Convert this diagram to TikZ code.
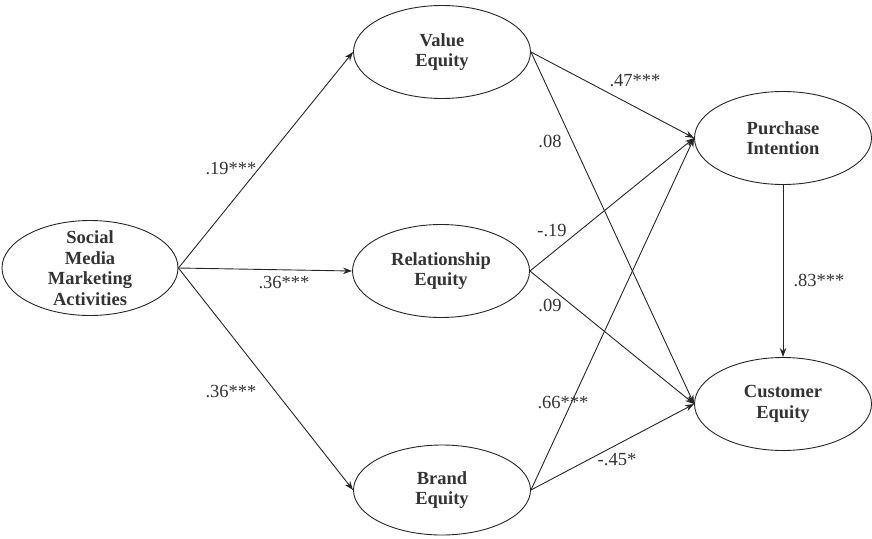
\documentclass[tikz,border=0pt]{standalone}
\usepackage{fontspec}
\setmainfont{Liberation Serif}
\usetikzlibrary{shapes.geometric,arrows.meta}
\begin{document}
\begin{tikzpicture}[x=1pt,y=-1pt,
    latent/.style={ellipse, draw=black!85, line width=0.9pt, minimum width=177pt, minimum height=93pt, inner sep=0pt},
    nametext/.style={font=\fontsize{18.5}{20.5}\selectfont\bfseries, text=black!80, align=center},
    effect/.style={draw=black!85, line width=0.9pt, -{Stealth[length=9pt,width=6.5pt]}},
    coef/.style={font=\fontsize{18.5}{20}\selectfont, text=black!80}]
    \useasboundingbox (0,0) rectangle (872,538);
    % latent constructs
    \node[latent, minimum width=176pt, minimum height=95pt, label={[nametext]center:Social\\Media\\Marketing\\Activities}] (smma) at (90,268) {};
    \node[latent, label={[nametext]center:Value\\Equity}] (ve) at (442,52) {};
    \node[latent, label={[nametext]center:Relationship\\Equity}] (re) at (441,271) {};
    \node[latent, minimum height=90pt, label={[nametext]center:Brand\\Equity}] (be) at (442,490) {};
    \node[latent, label={[nametext]center:Purchase\\Intention}] (pi) at (783,138) {};
    \node[latent, label={[nametext]center:Customer\\Equity}] (ce) at (783,404) {};
    % paths
    \draw[effect] (smma.east) -- (ve.west);
    \draw[effect] (smma.east) -- (re.west);
    \draw[effect] (smma.east) -- (be.west);
    \draw[effect] (ve.east) -- (pi.west);
    \draw[effect] (ve.east) -- (ce.west);
    \draw[effect] (re.east) -- (pi.west);
    \draw[effect] (re.east) -- (ce.west);
    \draw[effect] (be.east) -- (pi.west);
    \draw[effect] (be.east) -- (ce.west);
    \draw[effect] (pi.south) -- (ce.north);
    % coefficients
    \node[coef] (c1) at (231,169) {.19***};
    \node[coef] (c2) at (284,283) {.36***};
    \node[coef] (c3) at (231,392) {.36***};
    \node[coef] (c4) at (635,81) {.47***};
    \node[coef] (c5) at (550,141) {.08};
    \node[coef] (c6) at (552,231) {-.19};
    \node[coef] (c7) at (550,305) {.09};
    \node[coef] (c8) at (563,402) {.66***};
    \node[coef] (c9) at (617,460) {-.45*};
    \node[coef] (c10) at (819,280) {.83***};
\end{tikzpicture}
\end{document}
